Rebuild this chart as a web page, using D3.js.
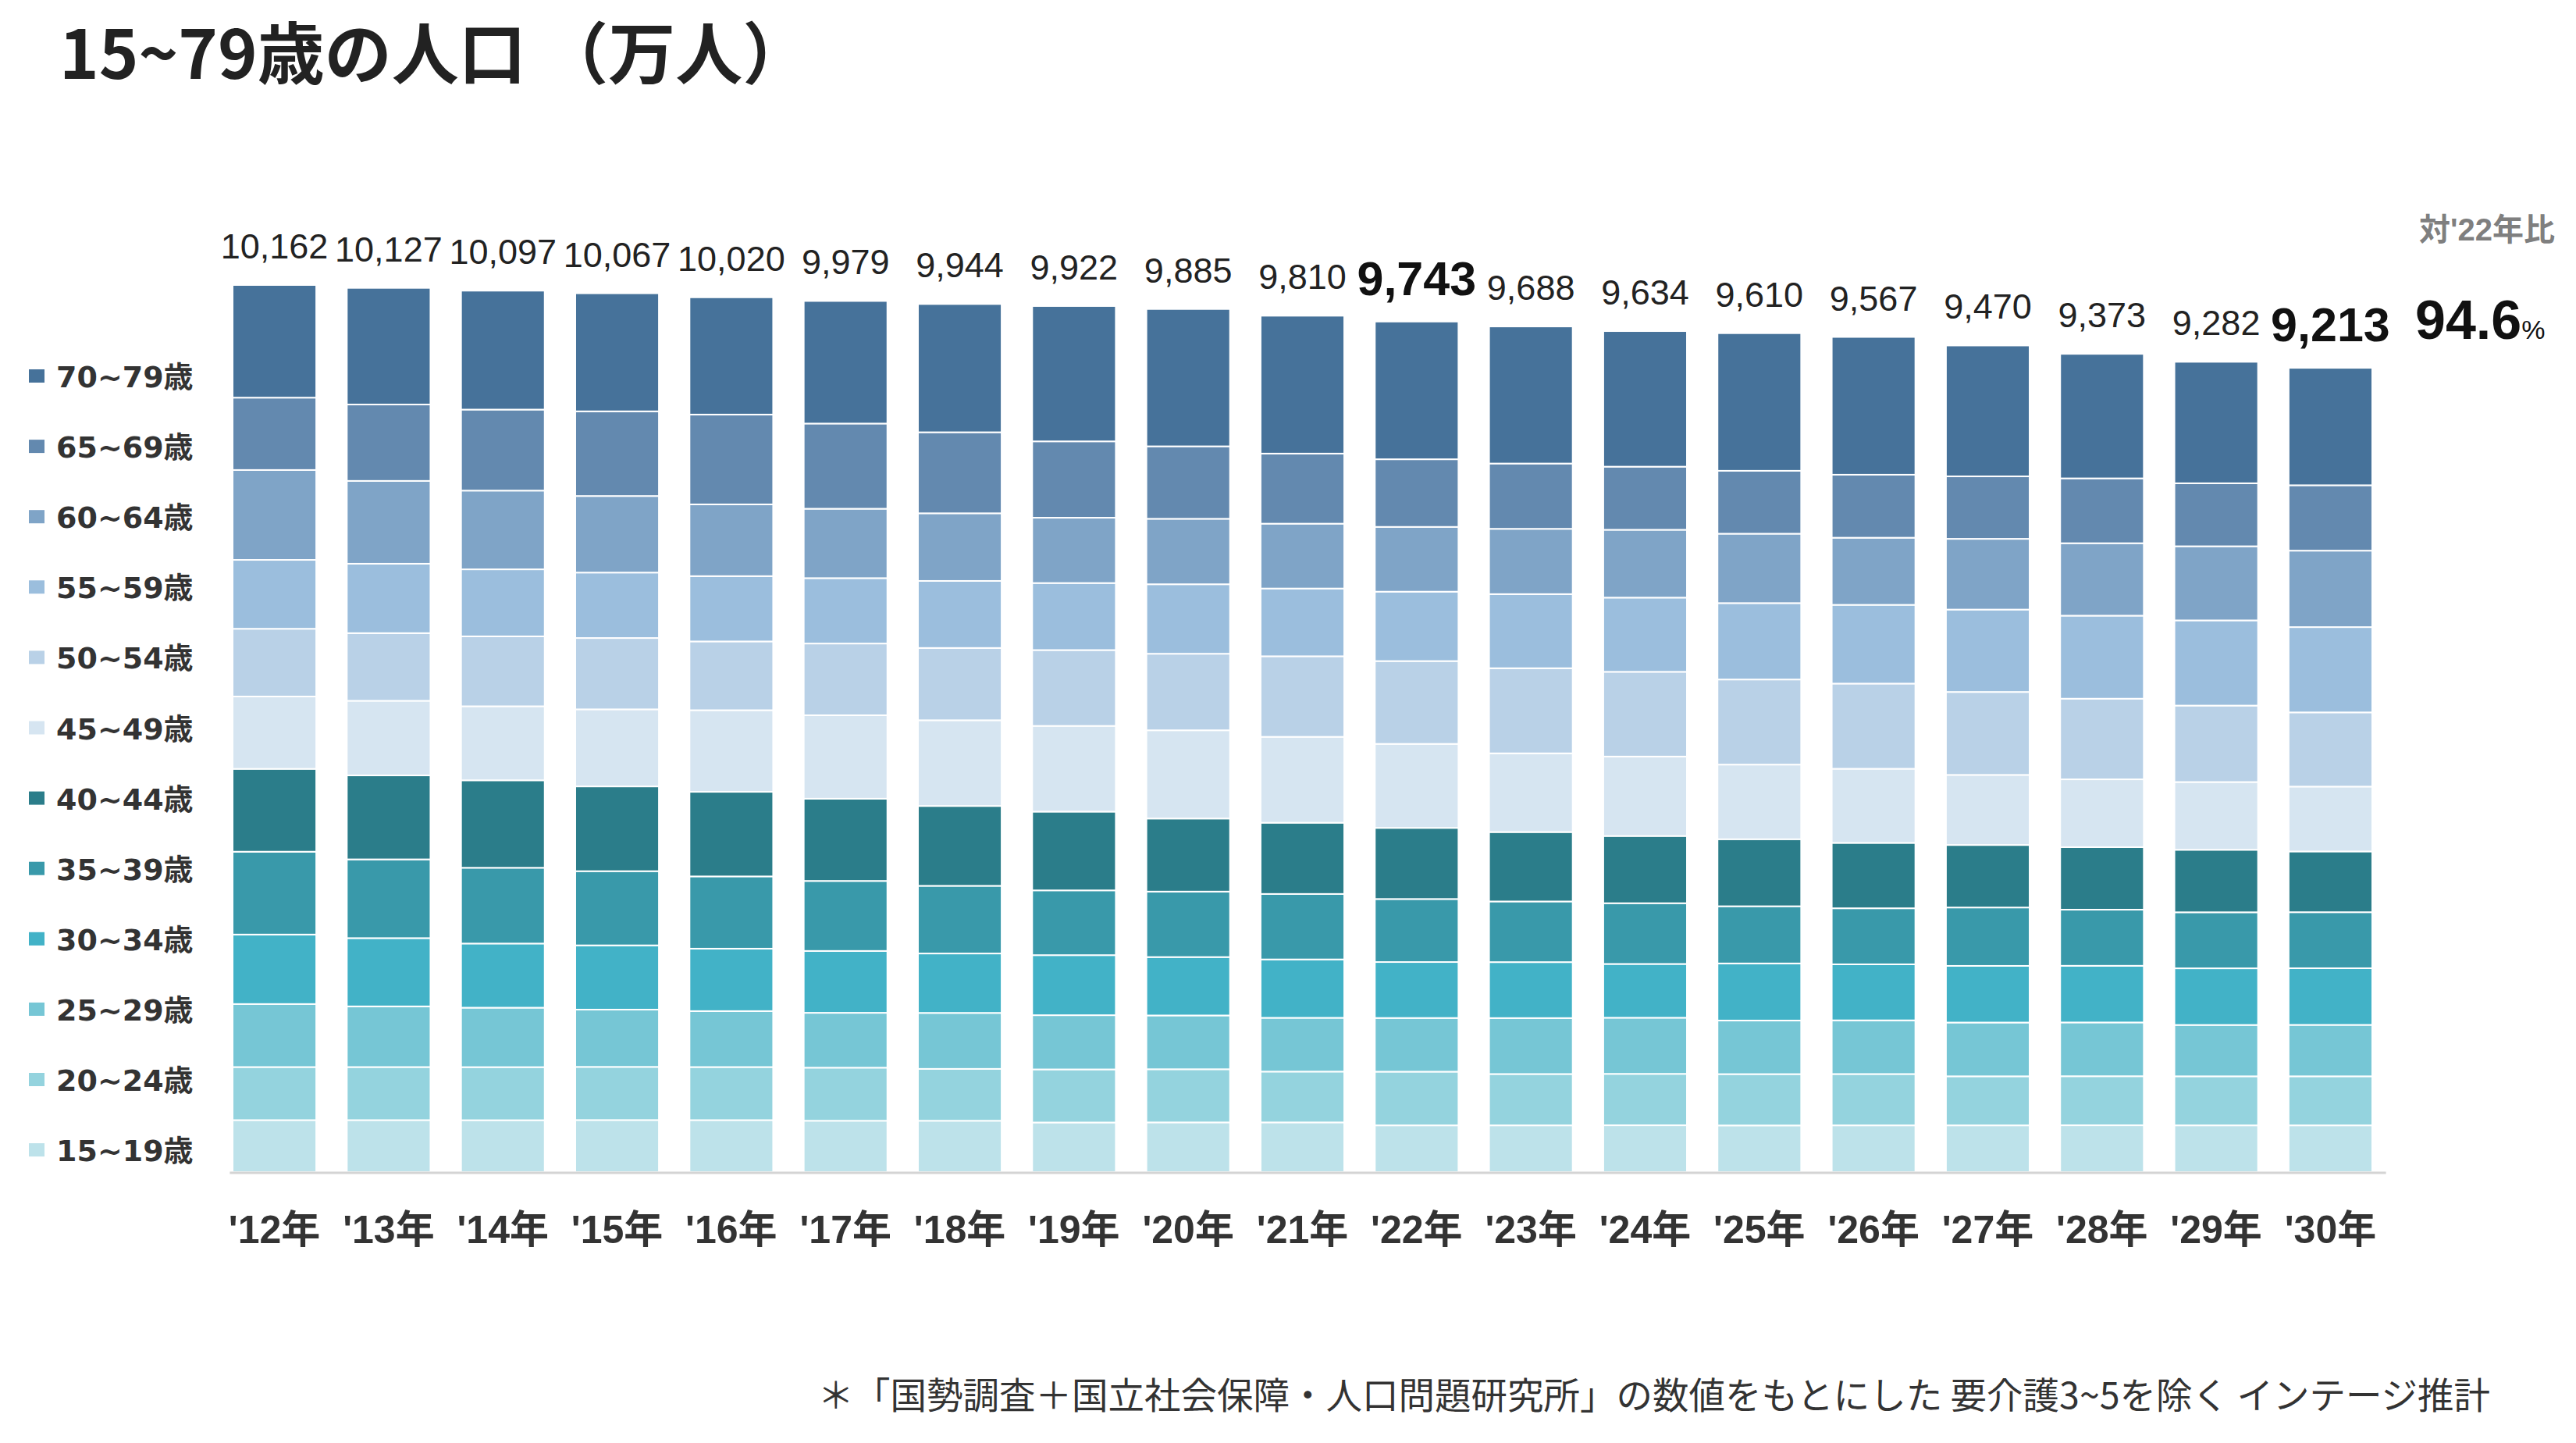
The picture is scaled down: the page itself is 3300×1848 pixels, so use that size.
<!DOCTYPE html>
<html>
<head>
<meta charset="utf-8">
<script src="https://cdn.jsdelivr.net/npm/d3@7/dist/d3.min.js"></script>
<style>
  html, body { margin: 0; padding: 0; background: #fff; }
  svg { display: block; }
</style>
</head>
<body>
<svg id="chart" width="3300" height="1848"></svg>
<script>
// ---------- DATA ----------
const years = ["'12年","'13年","'14年","'15年","'16年","'17年","'18年","'19年","'20年","'21年","'22年","'23年","'24年","'25年","'26年","'27年","'28年","'29年","'30年"];
const totals = [10162,10127,10097,10067,10020,9979,9944,9922,9885,9810,9743,9688,9634,9610,9567,9470,9373,9282,9213];
const highlightYears = ["'22年","'30年"];

// age groups, bottom to top
const ageGroups = ["15~19歳","20~24歳","25~29歳","30~34歳","35~39歳","40~44歳","45~49歳","50~54歳","55~59歳","60~64歳","65~69歳","70~79歳"];

const age15_19 = [595,595,594,596,595,588,588,568,569,569,535,535,536,534,535,535,536,535,535];
const age20_24 = [608,608,608,609,608,608,594,608,609,582,615,588,589,588,588,562,562,562,562];
const age25_29 = [722,695,681,656,641,628,641,621,616,616,615,641,643,614,615,616,616,588,589];
const age30_34 = [796,782,735,736,715,709,681,688,669,669,641,641,616,654,642,649,649,649,649];
const age35_39 = [949,902,868,850,828,802,775,742,750,750,722,695,696,655,642,669,643,642,642];
const age40_44 = [949,962,1002,971,969,942,915,902,837,816,815,795,770,768,749,716,716,716,696];
const age45_49 = [829,855,848,883,935,956,982,982,1011,984,962,902,910,855,849,803,777,776,743];
const age50_54 = [776,775,801,817,788,822,828,869,877,923,949,975,971,975,976,950,924,876,850];
const age55_59 = [789,795,768,750,748,749,768,768,796,776,795,849,850,875,902,944,951,976,977];
const age60_64 = [1030,949,902,877,822,795,775,748,750,743,742,748,777,795,769,810,830,849,876];
const age65_69 = [829,875,928,970,1029,976,928,875,830,803,775,748,723,721,722,716,743,722,749];
const age70_79 = [1290,1336,1362,1352,1343,1404,1469,1550,1573,1579,1577,1570,1553,1576,1578,1499,1426,1391,1345];

const ratioLabel = "94.6";
const ratioTitle = "対'22年比";
const title = "15~79歳の人口 （万人）";
const footnote = "＊「国勢調査＋国立社会保障・人口問題研究所」の数値をもとにした 要介護3~5を除く インテージ推計";

const colors = ["#bde2ea","#94d3de","#76c6d5","#42b2c7","#3999aa","#2b7d8a","#d6e5f1","#b9d1e7","#9bbedd","#7fa4c7","#6389af","#46729a"];

// ---------- BUILD ----------
const seriesArrays = [age15_19,age20_24,age25_29,age30_34,age35_39,age40_44,age45_49,age50_54,age55_59,age60_64,age65_69,age70_79];
const rows = years.map((y, i) => {
  const o = { year: y };
  ageGroups.forEach((g, k) => { o[g] = seriesArrays[k][i]; });
  return o;
});

const svg = d3.select("#chart");
svg.append("rect").attr("width", 3300).attr("height", 1848).attr("fill", "#fff");

const x = d3.scaleBand().domain(years).range([278.4, 3058.6]).paddingInner(0.268).paddingOuter(0.134);
const y = d3.scaleLinear().domain([0, 10162]).range([1501, 365]);
const color = d3.scaleOrdinal().domain(ageGroups).range(colors);

const stack = d3.stack().keys(ageGroups);
const layers = stack(rows);

const gBars = svg.append("g");
gBars.selectAll("g.layer").data(layers).join("g")
  .attr("class", "layer")
  .attr("fill", d => color(d.key))
  .selectAll("rect").data(d => d).join("rect")
  .attr("x", d => x(d.data.year))
  .attr("width", x.bandwidth())
  .attr("y", d => y(d[1]))
  .attr("height", d => y(d[0]) - y(d[1]))
  .attr("stroke", "#fff")
  .attr("stroke-width", 2);

// baseline
svg.append("line")
  .attr("x1", x.range()[0] + 16).attr("x2", x.range()[1] - 2)
  .attr("y1", y(0) + 1).attr("y2", y(0) + 1)
  .attr("stroke", "#d4d4d4").attr("stroke-width", 3);

// x axis
const xAxis = d3.axisBottom(x).tickSize(0).tickPadding(0);
const gx = svg.append("g").attr("transform", `translate(0, ${y(0)})`).call(xAxis);
gx.select(".domain").remove();
gx.selectAll("text")
  .attr("y", 91).attr("dy", 0)
  .attr("font-family", "'Liberation Sans', Arial, 'Noto Sans CJK JP', sans-serif")
  .attr("font-weight", "bold")
  .attr("font-size", 50)
  .attr("fill", "#333");

// total labels
svg.append("g").selectAll("text").data(years).join("text")
  .attr("x", d => x(d) + x.bandwidth() / 2)
  .attr("y", (d, i) => y(totals[i]) - 34)
  .attr("text-anchor", "middle")
  .attr("font-family", "'Liberation Sans', Arial, sans-serif")
  .attr("font-size", d => highlightYears.includes(d) ? 61 : 45)
  .attr("font-weight", d => highlightYears.includes(d) ? "bold" : "normal")
  .attr("fill", d => highlightYears.includes(d) ? "#111" : "#222")
  .text((d, i) => d3.format(",")(totals[i]));

// ratio
const lastY = y(totals[totals.length - 1]) - 37;
const rt = svg.append("text")
  .attr("x", 3094).attr("y", lastY)
  .attr("font-family", "'Liberation Sans', Arial, sans-serif")
  .attr("fill", "#111");
rt.append("tspan").attr("font-size", 70).attr("font-weight", "bold").text(ratioLabel);
rt.append("tspan").attr("font-size", 34).attr("font-weight", "normal").text("%");

svg.append("text")
  .attr("x", 3273).attr("y", 308)
  .attr("text-anchor", "end")
  .attr("font-family", "'Liberation Sans', Arial, 'Noto Sans CJK JP', sans-serif")
  .attr("font-weight", "bold")
  .attr("font-size", 40)
  .attr("fill", "#7f7f7f")
  .text(ratioTitle);

// legend (top = 70~79)
const legendOrder = ageGroups.slice().reverse();
const lg = svg.append("g");
const li = lg.selectAll("g").data(legendOrder).join("g")
  .attr("transform", (d, i) => `translate(0, ${482 + i * 90.1})`);
li.append("rect").attr("x", 37).attr("y", -9).attr("width", 20).attr("height", 17).attr("fill", d => color(d));
li.append("text")
  .attr("x", 72).attr("y", 14)
  .attr("font-family", "'DejaVu Sans', Verdana, 'Noto Sans CJK JP', sans-serif")
  .attr("font-weight", "bold")
  .attr("font-size", 38)
  .attr("fill", "#333")
  .text(d => d);

// title
svg.append("text")
  .attr("x", 76).attr("y", 101)
  .attr("font-family", "'Noto Sans CJK JP', sans-serif")
  .attr("font-weight", "bold")
  .attr("font-size", 86)
  .attr("fill", "#222")
  .text(title);

// footnote
svg.append("text")
  .attr("x", 3190).attr("y", 1804)
  .attr("text-anchor", "end")
  .attr("font-family", "'Noto Sans CJK JP', sans-serif")
  .attr("font-size", 46.5)
  .attr("fill", "#333")
  .text(footnote);
</script>
</body>
</html>
